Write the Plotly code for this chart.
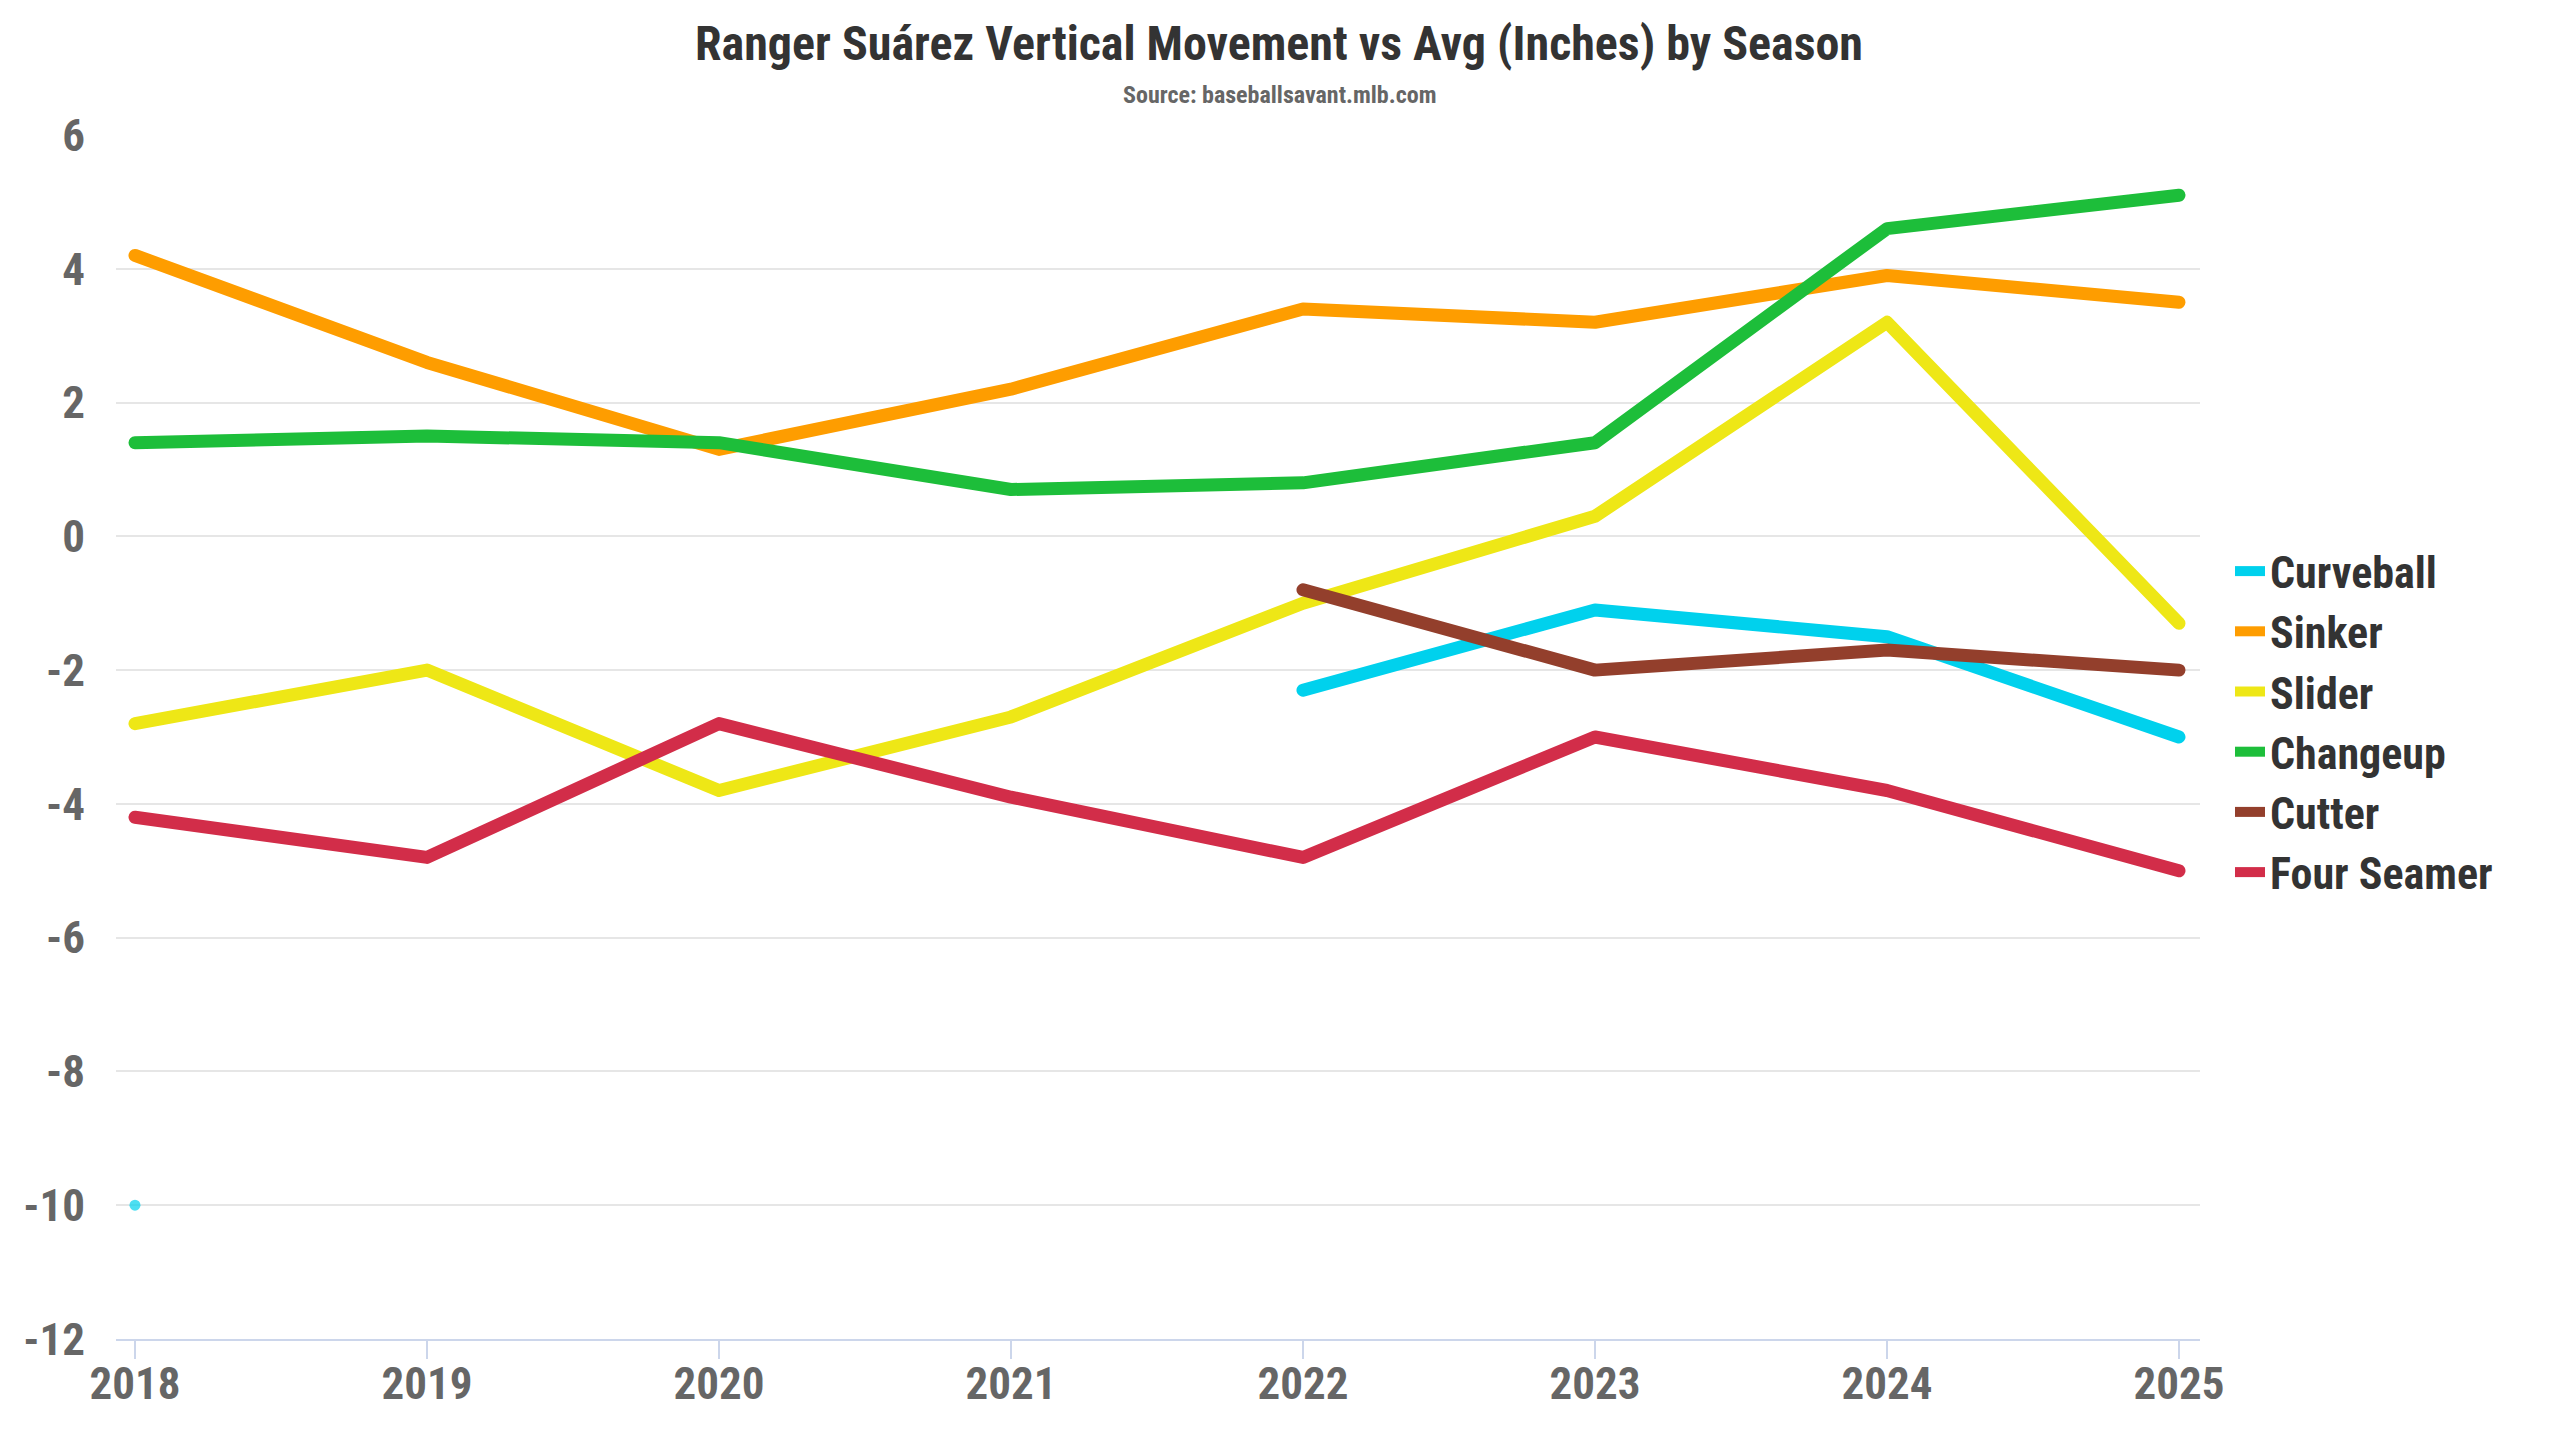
import plotly.graph_objects as go

seasons = [2018, 2019, 2020, 2021, 2022, 2023, 2024, 2025]

curveball = [-10.0, None, None, None, -2.3, -1.1, -1.5, -3.0]
sinker = [4.2, 2.6, 1.3, 2.2, 3.4, 3.2, 3.9, 3.5]
slider = [-2.8, -2.0, -3.8, -2.7, -1.0, 0.3, 3.2, -1.3]
changeup = [1.4, 1.5, 1.4, 0.7, 0.8, 1.4, 4.6, 5.1]
cutter = [None, None, None, None, -0.8, -2.0, -1.7, -2.0]
four_seamer = [-4.2, -4.8, -2.8, -3.9, -4.8, -3.0, -3.8, -5.0]

series_names = ["Curveball", "Sinker", "Slider", "Changeup", "Cutter", "Four Seamer"]
series_values = [curveball, sinker, slider, changeup, cutter, four_seamer]
series_colors = ["#00D1ED", "#FE9D00", "#EEE716", "#1DBE3A", "#933F2C", "#D22D49"]

y_ticks = [-12, -10, -8, -6, -4, -2, 0, 2, 4, 6]

FONT = "Roboto Condensed, Liberation Sans Narrow, DejaVu Sans Condensed, Roboto, sans-serif"

# page body has an 8px margin; figure occupies 8..2560 in the window
W, H = 2552, 1432
PL, PT, PR, PB = 108, 127, 2192, 1331  # plot area edges in figure px

fig = go.Figure()
for name, vals, col in zip(series_names, series_values, series_colors):
    sizes = []
    for i, v in enumerate(vals):
        prev_null = i == 0 or vals[i - 1] is None
        next_null = i == len(vals) - 1 or vals[i + 1] is None
        sizes.append(11 if (v is not None and prev_null and next_null) else 0)
    fig.add_trace(go.Scatter(
        x=seasons, y=vals, name=name, mode="lines+markers",
        line=dict(color=col, width=13),
        marker=dict(size=sizes, color=col, line=dict(width=0)),
        connectgaps=False,
    ))

fig.update_layout(
    width=W, height=H,
    paper_bgcolor="white", plot_bgcolor="white",
    margin=dict(l=PL, r=W - PR, t=PT, b=H - PB),
    font=dict(family=FONT),
    title=dict(
        text="<b>Ranger Suárez Vertical Movement vs Avg (Inches) by Season</b>",
        x=(1279 - 8) / W, xref="container", xanchor="center",
        y=1 - 35 / H, yref="container", yanchor="middle",
        font=dict(size=48, color="#333333", family=FONT),
    ),
    annotations=[dict(
        text="<b>Source: baseballsavant.mlb.com</b>",
        xref="paper", yref="paper",
        x=(1279 - 8 - PL) / (PR - PL), y=1 + (PT - 87) / (PB - PT),
        xanchor="center", yanchor="middle", showarrow=False,
        font=dict(size=24, color="#666666", family=FONT),
    )],
    showlegend=True,
    legend=dict(
        x=1.0 + (2222 - PR) / (PR - PL), xanchor="left",
        y=(PB - 714) / (PB - PT), yanchor="middle",
        font=dict(size=44, color="#333333", family=FONT, weight="bold"),
        bgcolor="rgba(0,0,0,0)", itemwidth=30,
    ),
    xaxis=dict(
        range=[2017.935, 2025.072],
        tickmode="array", tickvals=seasons, ticktext=[f"<b>{s}</b>" for s in seasons],
        showgrid=False, zeroline=False,
        showline=True, linecolor="#ccd6eb", linewidth=2,
        ticks="outside", ticklen=18, tickwidth=2, tickcolor="#ccd6eb",
        ticklabelstandoff=-14,
        tickfont=dict(size=45, color="#666666", family=FONT),
    ),
    yaxis=dict(
        range=[-12, 6],
        tickmode="array", tickvals=y_ticks, ticktext=[f"<b>{t}</b>" for t in y_ticks],
        showgrid=True, gridcolor="#e6e6e6", gridwidth=2,
        zeroline=False, showline=False,
        ticks="", ticklabelstandoff=30,
        tickfont=dict(size=45, color="#666666", family=FONT),
    ),
)

round_caps = """
(function(){
  function applyCaps(){
    document.querySelectorAll('.scatterlayer path.js-line').forEach(function(p){
      p.style.setProperty('stroke-linecap', 'round');
      p.style.setProperty('stroke-linejoin', 'round');
    });
  }
  var gd = document.getElementById('{plot_id}');
  applyCaps();
  if (gd && gd.on) { gd.on('plotly_afterplot', applyCaps); }
  setTimeout(applyCaps, 50);
  setTimeout(applyCaps, 300);
})();
"""

fig.write_html("out.html", post_script=round_caps)
